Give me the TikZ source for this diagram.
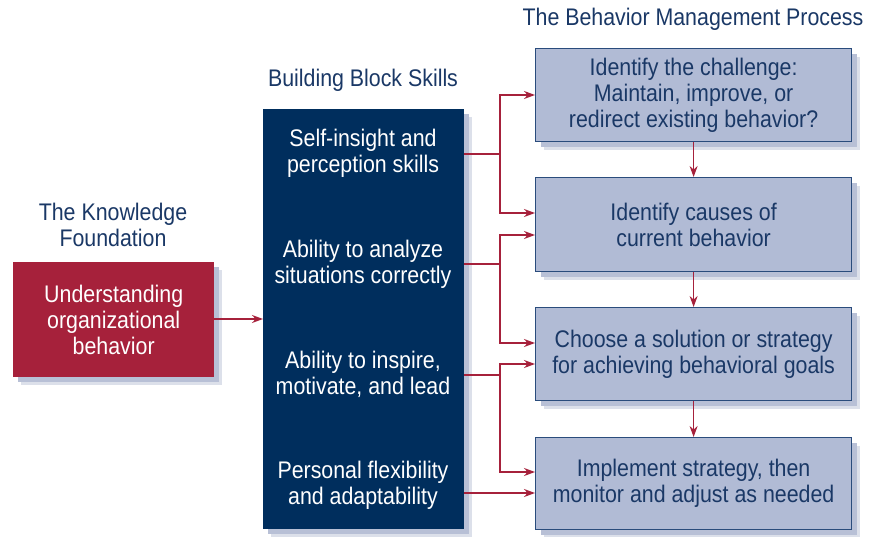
\documentclass[tikz,border=0pt]{standalone}
\usepackage{fontspec}
\setmainfont{Liberation Sans}[FakeStretch=0.89]
\usetikzlibrary{shadows,arrows.meta}
\definecolor{bred}{HTML}{A6213B}
\definecolor{navy}{HTML}{002E5D}
\definecolor{lblue}{HTML}{B1BBD5}
\definecolor{tnavy}{HTML}{1A3866}
\definecolor{bnavy}{HTML}{2A4C7C}
\definecolor{shadl}{HTML}{DCE0EA}
\definecolor{shadd}{HTML}{B8C0D6}
\tikzset{
  txt/.style={font=\fontsize{24}{26}\selectfont, align=center, inner sep=0pt},
  softshadow/.style={drop shadow={shadow xshift=8pt, shadow yshift=-8pt, fill=shadl, opacity=1},
                     drop shadow={shadow xshift=5pt, shadow yshift=-5pt, fill=shadd, opacity=1}},
  redbox/.style={txt, fill=bred, text=white, anchor=north west, minimum width=201pt, minimum height=115pt, softshadow},
  navybox/.style={fill=navy, anchor=north west, minimum width=201pt, minimum height=420pt, inner sep=0pt, softshadow},
  procbox/.style={txt, draw=bnavy, line width=1.2pt, fill=lblue, text=tnavy, anchor=north west, minimum width=316pt, softshadow},
  skill/.style={txt, text=white},
  title/.style={txt, text=tnavy},
  arr/.style={draw=bred, line width=1.3pt, -{Stealth[length=11pt,width=8pt]}},
}
\begin{document}
\begin{tikzpicture}[x=1pt,y=-1pt]
\useasboundingbox (0,0) rectangle (869,537);
\fill[white] (0,0) rectangle (869,537);
% titles
\node[title] (t1) at (693,19) {The Behavior Management Process};
\node[title] (t2) at (363,80) {Building Block Skills};
\node[title] (t3) at (113,225) {The Knowledge\\Foundation};
% boxes
\node[redbox] (rb) at (13,262) {Understanding\\organizational\\behavior};
\node[navybox] (nb) at (263,109) {};
\node[procbox, minimum height=93pt] (b1) at (535,48) {Identify the challenge:\\Maintain, improve, or\\redirect existing behavior?};
\node[procbox, minimum height=94pt] (b2) at (535,177) {Identify causes of\\current behavior};
\node[procbox, minimum height=93pt] (b3) at (535,307) {Choose a solution or strategy\\for achieving behavioral goals};
\node[procbox, minimum height=92pt] (b4) at (535,437) {Implement strategy, then\\monitor and adjust as needed};
% skills
\node[skill] (k1) at (363,153) {Self-insight and\\perception skills};
\node[skill] (k2) at (363,264) {Ability to analyze\\situations correctly};
\node[skill] (k3) at (363,374) {Ability to inspire,\\motivate, and lead};
\node[skill] (k4) at (363,485) {Personal flexibility\\and adaptability};
% connector start points
\coordinate (s1) at (nb.east |- 0,154);
\coordinate (s2) at (nb.east |- 0,264);
\coordinate (s3) at (nb.east |- 0,375);
\coordinate (s4) at (nb.east |- 0,493);
% arrows
\draw[arr] (rb.east |- 0,319) -- (nb.west |- 0,319);
\draw[arr] (s1) -| (500,95) -- (b1.west |- 0,95);
\draw[arr] (s1) -| (500,213) -- (b2.west |- 0,213);
\draw[arr] (s2) -| (500,235) -- (b2.west |- 0,235);
\draw[arr] (s2) -| (500,343) -- (b3.west |- 0,343);
\draw[arr] (s3) -| (500,364) -- (b3.west |- 0,364);
\draw[arr] (s3) -| (500,472) -- (b4.west |- 0,472);
\draw[arr] (s4) -- (b4.west |- 0,493);
\draw[arr] (b1.south) -- (b2.north);
\draw[arr] (b2.south) -- (b3.north);
\draw[arr] (b3.south) -- (b4.north);
\end{tikzpicture}
\end{document}
